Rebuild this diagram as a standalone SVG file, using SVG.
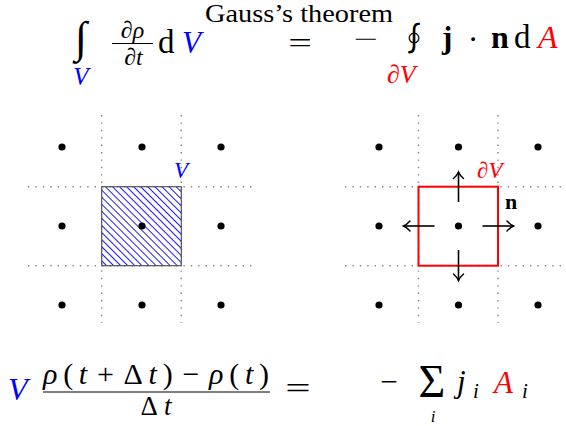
<svg xmlns="http://www.w3.org/2000/svg" width="566" height="426" viewBox="0 0 566 426">
<style>
text{font-family:"Liberation Serif","DejaVu Serif",serif;fill:#000}
.it{font-style:italic}
.bf{font-weight:bold}
.blue{fill:#0000ff}
.red{fill:#ff0000}
.grid{stroke:#888;stroke-width:1.5;stroke-dasharray:1.4 6;fill:none}
.dot{fill:#000}
.bar{stroke:#000;stroke-width:1.2}
.arr{stroke:#000;stroke-width:1.6;fill:none;marker-end:url(#to)}
</style>
<defs>
<pattern id="hatch" patternUnits="userSpaceOnUse" width="5" height="5" patternTransform="rotate(45)">
<line x1="0" y1="2.5" x2="5" y2="2.5" stroke="#0000ff" stroke-width="0.9"/>
</pattern>
<marker id="to" markerUnits="userSpaceOnUse" viewBox="-8 -6 10 12" refX="0" refY="0" markerWidth="10" markerHeight="12" orient="auto" overflow="visible">
<path d="M-6.5,-5 C-4,-2.2 -1.5,-0.6 0,0 C-1.5,0.6 -4,2.2 -6.5,5" stroke="#000" stroke-width="1.5" fill="none" stroke-linecap="round"/>
</marker>
</defs>

<g id="title">
<text x="299" y="22" font-size="26" text-anchor="middle" textLength="188" lengthAdjust="spacingAndGlyphs">Gauss’s theorem</text>
</g>

<g id="gauss-equation">
<text x="81" y="52" font-size="44" text-anchor="middle">∫</text>
<text x="81" y="85" font-size="25" class="it blue" text-anchor="middle">V</text>
<text x="132.5" y="37.5" font-size="24" text-anchor="middle">∂<tspan class="it">ρ</tspan></text>
<line class="bar" x1="112" y1="43.5" x2="153" y2="43.5"/>
<text x="133.5" y="64.5" font-size="24" text-anchor="middle">∂<tspan class="it">t</tspan></text>
<text x="158" y="53" font-size="33">d</text>
<text x="182" y="53" font-size="31" class="it blue">V</text>
<text transform="translate(300,52) scale(1.5,1)" font-size="28" text-anchor="middle">=</text>
<text transform="translate(366,47) scale(1.8,1)" font-size="24" text-anchor="middle">−</text>
<text x="414" y="50" font-size="32" text-anchor="middle" style="font-family:'Noto Sans CJK JP','Noto Sans CJK SC','DejaVu Serif',serif">∮</text>
<text x="387" y="83" font-size="26" class="red">∂<tspan class="it">V</tspan></text>
<text x="442" y="48" font-size="31" class="bf">j</text>
<text x="473" y="50" font-size="32" text-anchor="middle">·</text>
<text x="491" y="48" font-size="32" class="bf">n</text>
<text x="514" y="48" font-size="33">d</text>
<text x="538" y="48" font-size="32" class="it red">A</text>
</g>

<g id="volume-grid">
<g class="grid">
<line x1="101.7" y1="115" x2="101.7" y2="323"/>
<line x1="181.3" y1="115" x2="181.3" y2="323"/>
<line x1="28" y1="186.7" x2="256" y2="186.7"/>
<line x1="28" y1="265.7" x2="256" y2="265.7"/>
</g>
<rect x="101.7" y="186.7" width="79.6" height="79" fill="url(#hatch)" stroke="#555" stroke-width="1.2"/>
<g class="dot">
<circle cx="62" cy="147" r="3.6"/><circle cx="142" cy="147" r="3.6"/><circle cx="221" cy="147" r="3.6"/>
<circle cx="62" cy="226" r="3.6"/><circle cx="142" cy="226" r="3.6"/><circle cx="221" cy="226" r="3.6"/>
<circle cx="62" cy="305" r="3.6"/><circle cx="142" cy="305" r="3.6"/><circle cx="221" cy="305" r="3.6"/>
</g>
<text x="181" y="178" font-size="23" class="it blue" text-anchor="middle">V</text>
</g>

<g id="surface-grid">
<g class="grid">
<line x1="418.5" y1="115" x2="418.5" y2="323"/>
<line x1="498" y1="115" x2="498" y2="323"/>
<line x1="345" y1="186.7" x2="571" y2="186.7"/>
<line x1="345" y1="265.7" x2="571" y2="265.7"/>
</g>
<rect x="418.5" y="186.7" width="79.5" height="79" fill="none" stroke="#ff0000" stroke-width="2"/>
<g class="dot">
<circle cx="379" cy="147" r="3.6"/><circle cx="458.5" cy="147" r="3.6"/><circle cx="538" cy="147" r="3.6"/>
<circle cx="379" cy="226" r="3.6"/><circle cx="458.5" cy="226" r="3.6"/><circle cx="538" cy="226" r="3.6"/>
<circle cx="379" cy="305" r="3.6"/><circle cx="458.5" cy="305" r="3.6"/><circle cx="538" cy="305" r="3.6"/>
</g>
<text x="477" y="178" font-size="23" class="red">∂<tspan class="it">V</tspan></text>
<text x="505" y="209" font-size="22" class="bf">n</text>
</g>

<g id="connectors">
<line class="arr" x1="458.5" y1="202" x2="458.5" y2="172"/>
<line class="arr" x1="434.5" y1="226" x2="403.5" y2="226"/>
<line class="arr" x1="482.5" y1="226" x2="513.5" y2="226"/>
<line class="arr" x1="458.5" y1="250" x2="458.5" y2="280.5"/>
</g>

<g id="discrete-equation">
<text x="8" y="400" font-size="32" class="it blue">V</text>
<text x="43" y="384" font-size="30" textLength="226" lengthAdjust="spacing"><tspan class="it">ρ</tspan>(<tspan class="it">t</tspan><tspan dx="4">+</tspan><tspan dx="4">Δ</tspan><tspan class="it">t</tspan>)<tspan dx="4">−</tspan><tspan dx="4" class="it">ρ</tspan>(<tspan class="it">t</tspan>)</text>
<line class="bar" x1="43" y1="392" x2="270" y2="392"/>
<text x="156" y="415" font-size="27" text-anchor="middle" textLength="31" lengthAdjust="spacing">Δ<tspan class="it">t</tspan></text>
<text transform="translate(298,398) scale(1.5,1)" font-size="30" text-anchor="middle">=</text>
<text x="389" y="392" font-size="31" text-anchor="middle">−</text>
<text x="432" y="397" font-size="46" text-anchor="middle">Σ</text>
<text x="433" y="422" font-size="17" class="it" text-anchor="middle">i</text>
<text x="457" y="392" font-size="31" class="it">j</text>
<text x="473" y="398" font-size="21" class="it">i</text>
<text x="494" y="393" font-size="31" class="it red">A</text>
<text x="522" y="398" font-size="21" class="it">i</text>
</g>
</svg>
